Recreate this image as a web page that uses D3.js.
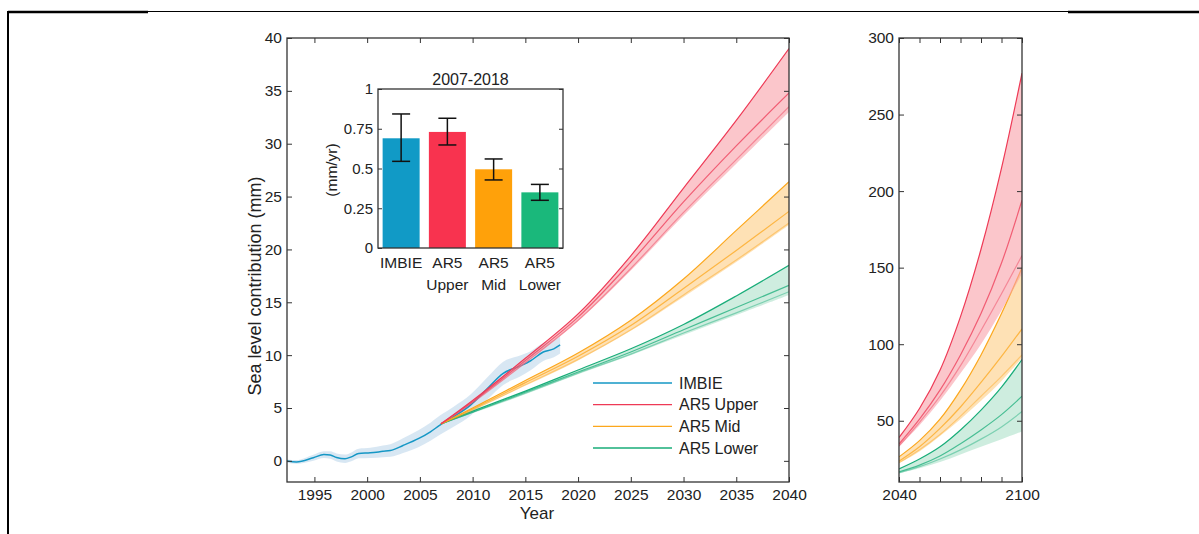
<!DOCTYPE html>
<html>
<head>
<meta charset="utf-8">
<script src="https://cdn.jsdelivr.net/npm/d3@7"></script>
<style>
  body { margin: 0; background: #fff; }
  svg text { font-family: "Liberation Sans", Arial, Helvetica, sans-serif; fill: #222; }
</style>
</head>
<body>
<svg id="chart" width="1199" height="534"></svg>
<script>
// ---------------- data ----------------
// IMBIE reconstruction (cumulative, mm) with ± uncertainty
const imbieYears = [1992.3, 1993.3, 1994.9, 1995.9, 1996.5, 1997.1, 1997.9, 1998.5, 1999.2, 2000.3, 2001.5, 2002.2, 2003.4, 2004.9, 2006.0, 2006.9, 2008.2, 2009.8, 2011.4, 2012.9, 2014.5, 2015.5, 2016.7, 2017.7, 2018.3];
const imbieValues = [0.0, -0.1, 0.3, 0.6, 0.55, 0.32, 0.2, 0.38, 0.7, 0.76, 0.9, 0.98, 1.45, 2.12, 2.75, 3.38, 4.17, 5.27, 6.85, 8.28, 8.97, 9.47, 10.3, 10.6, 10.96];
const imbieSpread = [0.15, 0.18, 0.28, 0.32, 0.35, 0.38, 0.4, 0.42, 0.45, 0.48, 0.55, 0.6, 0.7, 0.8, 0.85, 0.9, 0.95, 1.0, 1.05, 1.1, 1.0, 0.9, 0.85, 0.8, 0.8];

// AR5 projections 2007-2040 (mm)
const nearYears = [2007, 2010, 2015, 2020, 2025, 2030, 2035, 2040];
const upperTopNear = [3.5, 5.7, 9.7, 13.9, 19.4, 25.8, 32.2, 39.0];
const upperMidNear = [3.5, 5.6, 9.5, 13.6, 18.8, 24.5, 29.8, 34.8];
const upperLowNear = [3.5, 5.5, 9.3, 13.3, 18.2, 23.5, 28.5, 33.5];
const upperBandLowNear = [3.5, 5.5, 9.2, 13.2, 18.0, 23.2, 28.1, 33.0];
const midTopNear = [3.5, 5.0, 7.6, 10.2, 13.3, 17.2, 21.8, 26.4];
const midMidNear = [3.5, 4.9, 7.4, 9.9, 12.8, 16.3, 19.9, 23.6];
const midLowNear = [3.5, 4.8, 7.2, 9.6, 12.4, 15.7, 19.0, 22.5];
const midBandLowNear = [3.5, 4.8, 7.1, 9.5, 12.3, 15.5, 18.8, 22.3];
const lowerTopNear = [3.5, 4.7, 6.6, 8.6, 10.6, 12.9, 15.6, 18.5];
const lowerMidNear = [3.5, 4.6, 6.5, 8.4, 10.3, 12.4, 14.5, 16.6];
const lowerLowNear = [3.5, 4.6, 6.4, 8.3, 10.1, 12.1, 14.0, 16.0];
const lowerBandLowNear = [3.5, 4.5, 6.3, 8.2, 10.0, 11.9, 13.8, 15.7];

// AR5 projections 2040-2100 (mm)
const farYears = [2040, 2050, 2060, 2070, 2080, 2090, 2100];
const upperTopFar = [39, 58, 83, 118, 162, 215, 277];
const upperMidFar = [34.8, 51, 70, 93, 120, 153, 194];
const upperLowFar = [33.5, 49, 66, 86, 109, 133, 158];
const upperBandLowFar = [33, 47, 63, 81, 100, 122, 146];
const midTopFar = [26.4, 37, 51, 70, 93, 120, 150];
const midMidFar = [23.6, 33, 45, 59, 75, 92, 110];
const midLowFar = [22.5, 31, 41, 53, 66, 79, 93];
const midBandLowFar = [22.3, 30, 40, 51, 63, 76, 91];
const lowerTopFar = [18.5, 25, 33, 44, 57, 72, 90];
const lowerMidFar = [16.6, 21, 27, 35, 44, 54, 66];
const lowerLowFar = [16.0, 20, 25, 31, 38, 46, 56];
const lowerBandLowFar = [15.7, 19, 23, 28, 33, 38, 43];

// 2007-2018 rates (mm/yr)
const rateCategories = ["IMBIE", "AR5 Upper", "AR5 Mid", "AR5 Lower"];
const rateLabels = [["IMBIE"], ["AR5", "Upper"], ["AR5", "Mid"], ["AR5", "Lower"]];
const rateValues = [0.69, 0.73, 0.495, 0.35];
const rateLow = [0.545, 0.648, 0.428, 0.30];
const rateHigh = [0.843, 0.816, 0.56, 0.40];

// tick labels
const mainYearTicks = [1995, 2000, 2005, 2010, 2015, 2020, 2025, 2030, 2035, 2040];
const mainValueTicks = [0, 5, 10, 15, 20, 25, 30, 35, 40];
const rateTicks = [0, 0.25, 0.5, 0.75, 1];
const farYearTicks = [2040, 2050, 2060, 2070, 2080, 2090, 2100];
const farYearLabels = [2040, 2100];
const farValueTicks = [50, 100, 150, 200, 250, 300];

const legendNames = ["IMBIE", "AR5 Upper", "AR5 Mid", "AR5 Lower"];

// ---------------- styles ----------------
const colors = { imbie: "#1597c5", upper: "#ee3a56", mid: "#fca71c", lower: "#19ad79" };
const barColors = ["#119ac6", "#f8334f", "#ffa10a", "#1ab87b"];
const fills = {
  upper: { c: "#f9a0a8", o: 0.6 },
  mid: { c: "#fdb545", o: 0.4 },
  lower: { c: "#5cc495", o: 0.3 }
};
const axisColor = "#333";
const smooth = d3.curveCatmullRom.alpha(0.5);

const svg = d3.select("#chart");

// ---------------- page frame ----------------
svg.append("line").attr("x1", 8).attr("x2", 148).attr("y1", 12).attr("y2", 12)
  .attr("stroke", "#000").attr("stroke-width", 2.5);
svg.append("line").attr("x1", 148).attr("x2", 1068).attr("y1", 11.5).attr("y2", 11.5)
  .attr("stroke", "#000").attr("stroke-width", 1);
svg.append("line").attr("x1", 1068).attr("x2", 1199).attr("y1", 12).attr("y2", 12)
  .attr("stroke", "#000").attr("stroke-width", 2.5);
svg.append("line").attr("x1", 8).attr("x2", 8).attr("y1", 11).attr("y2", 534)
  .attr("stroke", "#000").attr("stroke-width", 2);

// ---------------- helpers ----------------
function boxAxes(g, xs, ys, opts) {
  const [xa, xb] = xs.range();
  const [yb, ya] = ys.range();
  const fs = opts.fontSize || 15.5;
  const bottom = g.append("g").attr("transform", `translate(0,${yb})`)
    .call(d3.axisBottom(xs).tickValues(opts.xTicks || []).tickSize(-opts.tick).tickPadding(7)
      .tickFormat(opts.xFormat || (d => d)));
  const top = g.append("g").attr("transform", `translate(0,${ya})`)
    .call(d3.axisTop(xs).tickValues(opts.xTicks || []).tickSize(-opts.tick).tickFormat(""));
  const left = g.append("g").attr("transform", `translate(${xa},0)`)
    .call(d3.axisLeft(ys).tickValues(opts.yTicks).tickSize(-opts.tick).tickPadding(5)
      .tickFormat(opts.yFormat || (d => d)));
  const right = g.append("g").attr("transform", `translate(${xb},0)`)
    .call(d3.axisRight(ys).tickValues(opts.yTicks).tickSize(-opts.tick).tickFormat(""));
  [bottom, top, left, right].forEach(a => {
    a.select(".domain").remove();
    a.attr("font-family", null).attr("font-size", null);
    a.selectAll(".tick line").attr("stroke", axisColor).attr("stroke-width", 1);
    a.selectAll(".tick text").attr("font-size", fs).attr("fill", "#222");
  });
  g.append("rect").attr("x", xa).attr("y", ya).attr("width", xb - xa).attr("height", yb - ya)
    .attr("fill", "none").attr("stroke", axisColor).attr("stroke-width", 1.3);
}

function series(years, vals) { return years.map((t, i) => ({ t, v: vals[i] })); }

function drawScenario(g, xs, ys, years, top, mid, low, bandLow, color, fill) {
  const area = d3.area().curve(smooth)
    .x((d, i) => xs(years[i])).y0((d, i) => ys(bandLow[i])).y1((d, i) => ys(top[i]));
  g.append("path").datum(years).attr("d", area)
    .attr("fill", fill.c).attr("fill-opacity", fill.o);
  const line = d3.line().curve(smooth).x(d => xs(d.t)).y(d => ys(d.v));
  [[low, 0.45], [mid, 0.75], [top, 1]].forEach(([vals, op]) => {
    g.append("path").datum(series(years, vals)).attr("d", line)
      .attr("fill", "none").attr("stroke", color).attr("stroke-width", 1.2).attr("stroke-opacity", op);
  });
}

// ---------------- main panel ----------------
const x = d3.scaleLinear().domain([1992.4, 2040]).range([287, 789]);
const y = d3.scaleLinear().domain([-2, 40]).range([482, 38]);

svg.append("clipPath").attr("id", "clipMain")
  .append("rect").attr("x", 287).attr("y", 38).attr("width", 502).attr("height", 444);
const plot = svg.append("g").attr("clip-path", "url(#clipMain)");

// IMBIE envelope and line
const imbie = imbieYears.map((t, i) => ({ t, v: imbieValues[i], s: imbieSpread[i] }));
plot.append("path").datum(imbie)
  .attr("d", d3.area().curve(d3.curveMonotoneX).x(d => x(d.t)).y0(d => y(d.v - d.s)).y1(d => y(d.v + d.s)))
  .attr("fill", "#a9c9e4").attr("fill-opacity", 0.45);
plot.append("path").datum(imbie)
  .attr("d", d3.line().curve(d3.curveMonotoneX).x(d => x(d.t)).y(d => y(d.v)))
  .attr("fill", "none").attr("stroke", colors.imbie).attr("stroke-width", 1.5);

drawScenario(plot, x, y, nearYears, lowerTopNear, lowerMidNear, lowerLowNear, lowerBandLowNear, colors.lower, fills.lower);
drawScenario(plot, x, y, nearYears, midTopNear, midMidNear, midLowNear, midBandLowNear, colors.mid, fills.mid);
drawScenario(plot, x, y, nearYears, upperTopNear, upperMidNear, upperLowNear, upperBandLowNear, colors.upper, fills.upper);

boxAxes(svg.append("g"), x, y, { xTicks: mainYearTicks, yTicks: mainValueTicks, tick: 5, fontSize: 15.5 });

svg.append("text").attr("x", 537).attr("y", 519).attr("text-anchor", "middle")
  .attr("font-size", 17).text("Year");
svg.append("text").attr("transform", "translate(261,286) rotate(-90)").attr("text-anchor", "middle")
  .attr("font-size", 18).text("Sea level contribution (mm)");

// legend
const legendKeys = ["imbie", "upper", "mid", "lower"];
const legendRow = d3.scaleLinear().domain([0, 3]).range([383, 448]);
const legend = svg.append("g");
legendNames.forEach((name, i) => {
  const ly = legendRow(i);
  legend.append("line").attr("x1", 593).attr("x2", 672).attr("y1", ly).attr("y2", ly)
    .attr("stroke", colors[legendKeys[i]]).attr("stroke-width", 1.4);
  legend.append("text").attr("x", 679).attr("y", ly + 5.6).attr("font-size", 16).text(name);
});

// ---------------- inset: 2007-2018 rates ----------------
const bx = d3.scaleBand().domain(rateCategories).range([378, 563]).paddingInner(0.2).paddingOuter(0.1);
const by = d3.scaleLinear().domain([0, 1]).range([248, 89]);
const inset = svg.append("g");
inset.append("rect").attr("x", 378).attr("y", 89).attr("width", 185).attr("height", 159).attr("fill", "#fff");
inset.selectAll("rect.bar").data(rateCategories).join("rect").attr("class", "bar")
  .attr("x", d => bx(d)).attr("width", bx.bandwidth())
  .attr("y", (d, i) => by(rateValues[i])).attr("height", (d, i) => by(0) - by(rateValues[i]))
  .attr("fill", (d, i) => barColors[i]);
rateCategories.forEach((c, i) => {
  const cx = bx(c) + bx.bandwidth() / 2;
  const eb = inset.append("g").attr("stroke", "#111").attr("stroke-width", 1.5);
  eb.append("line").attr("x1", cx).attr("x2", cx).attr("y1", by(rateLow[i])).attr("y2", by(rateHigh[i]));
  eb.append("line").attr("x1", cx - 9).attr("x2", cx + 9).attr("y1", by(rateLow[i])).attr("y2", by(rateLow[i]));
  eb.append("line").attr("x1", cx - 9).attr("x2", cx + 9).attr("y1", by(rateHigh[i])).attr("y2", by(rateHigh[i]));
  rateLabels[i].forEach((txt, j) => {
    inset.append("text").attr("x", cx).attr("y", 268 + j * 22).attr("text-anchor", "middle")
      .attr("font-size", 15.5).text(txt);
  });
});
const insetAxes = inset.append("g");
const ia = insetAxes.append("g").attr("transform", "translate(378,0)")
  .call(d3.axisLeft(by).tickValues(rateTicks).tickSize(-4).tickPadding(5).tickFormat(d => d));
const ib = insetAxes.append("g").attr("transform", "translate(563,0)")
  .call(d3.axisRight(by).tickValues(rateTicks).tickSize(-4).tickFormat(""));
[ia, ib].forEach(a => {
  a.select(".domain").remove();
  a.attr("font-family", null).attr("font-size", null);
  a.selectAll(".tick line").attr("stroke", axisColor);
  a.selectAll(".tick text").attr("font-size", 15).attr("fill", "#222");
});
inset.append("rect").attr("x", 378).attr("y", 89).attr("width", 185).attr("height", 159)
  .attr("fill", "none").attr("stroke", axisColor).attr("stroke-width", 1.3);
inset.append("text").attr("x", 470.5).attr("y", 85).attr("text-anchor", "middle")
  .attr("font-size", 16).text("2007-2018");
inset.append("text").attr("transform", "translate(337,170) rotate(-90)").attr("text-anchor", "middle")
  .attr("font-size", 15.5).text("(mm/yr)");

// ---------------- right panel: 2040-2100 ----------------
const x2 = d3.scaleLinear().domain([2040, 2100]).range([899, 1022]);
const y2 = d3.scaleLinear().domain([10, 300]).range([482, 38]);
svg.append("clipPath").attr("id", "clipFar")
  .append("rect").attr("x", 899).attr("y", 38).attr("width", 123).attr("height", 444);
const far = svg.append("g").attr("clip-path", "url(#clipFar)");
drawScenario(far, x2, y2, farYears, lowerTopFar, lowerMidFar, lowerLowFar, lowerBandLowFar, colors.lower, fills.lower);
drawScenario(far, x2, y2, farYears, midTopFar, midMidFar, midLowFar, midBandLowFar, colors.mid, fills.mid);
drawScenario(far, x2, y2, farYears, upperTopFar, upperMidFar, upperLowFar, upperBandLowFar, colors.upper, fills.upper);

boxAxes(svg.append("g"), x2, y2, {
  xTicks: farYearTicks, yTicks: farValueTicks, tick: 5, fontSize: 15.5,
  xFormat: d => (farYearLabels.includes(d) ? d : "")
});
</script>
</body>
</html>
